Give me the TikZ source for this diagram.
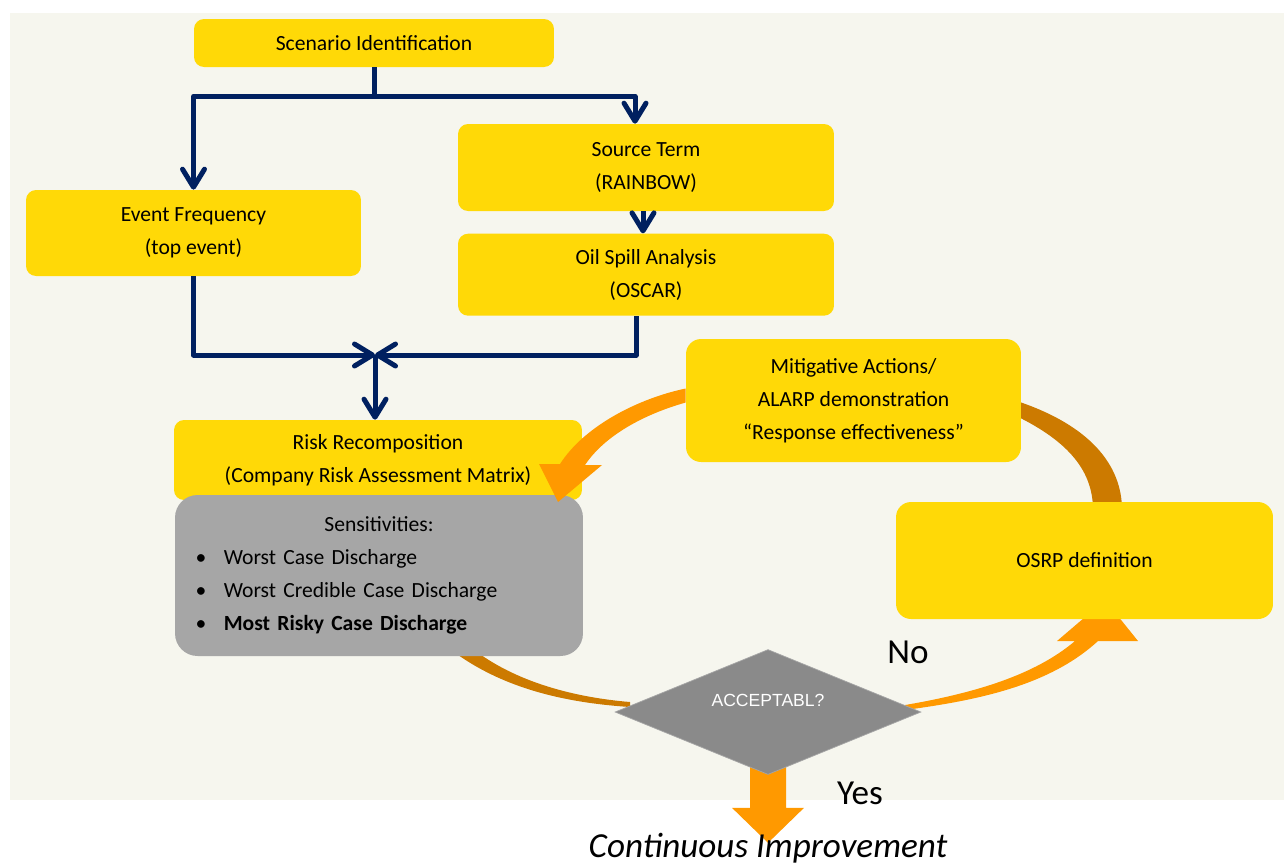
\documentclass[tikz,border=0pt]{standalone}
\usepackage{fontspec}
\setmainfont{Carlito}
\newfontfamily\arialfont{Liberation Sans}
\usetikzlibrary{arrows.meta, shapes.geometric, positioning, calc}
\definecolor{boxYellow}{HTML}{FFD907}
\definecolor{sensGray}{HTML}{A6A6A6}
\definecolor{flowNavy}{HTML}{002060}
\definecolor{loopOrange}{HTML}{FF9900}
\definecolor{loopDark}{HTML}{CC7A00}
\definecolor{paperCream}{HTML}{F6F6EE}
\definecolor{decisionGray}{HTML}{8A8A8A}
\pgfdeclarelayer{paper}
\pgfdeclarelayer{under}
\pgfsetlayers{paper,under,main}
\newcommand{\sensitem}[1]{\hspace*{0.13cm}\textbullet\hspace{0.35cm}#1}

\begin{document}
\begin{tikzpicture}[x=0.02cm, y=-0.02cm,
  every node/.style={text=black, font=\fontsize{12.3}{18.7}\selectfont},
  flow/.style={line width=0.1cm, draw=flowNavy, line join=round},
  arr/.style={flow, -{Straight Barb[length=0.36cm, width=0.44cm, round]}},
  yblock/.style={fill=boxYellow, rounded corners=0.2cm, align=center, inner sep=0pt},
  sensblock/.style={fill=sensGray, rounded corners=0.45cm, align=left,
                    text width=7.6cm, inner xsep=0.28cm, inner ysep=0pt,
                    minimum height=3.22cm},
  decision/.style={diamond, aspect=2.5, fill=decisionGray, draw=gray!70, line width=0.4pt,
                   minimum width=6.12cm, minimum height=2.5cm, inner sep=0pt,
                   text=white, font=\arialfont\fontsize{10}{12}\selectfont},
  biglabel/.style={font=\fontsize{20}{24}\selectfont}]

  \useasboundingbox (0,0) rectangle (1284,867);

  \begin{pgfonlayer}{paper}
    \fill[paperCream] (10,13) rectangle (1284,800);
  \end{pgfonlayer}

  %% ═══════════════════════════════════════════════════════════════
  %% UPPER FLOW: SCENARIO -> FREQUENCY / SOURCE TERM -> OIL SPILL
  %% ═══════════════════════════════════════════════════════════════

  \node[yblock, minimum width=7.2cm, minimum height=0.96cm] (scen) at (374,43)
      {Scenario Identification};

  \node[yblock, minimum width=6.7cm, minimum height=1.72cm] (evfreq) at (193.5,233)
      {Event Frequency\\(top event)};

  \node[yblock, minimum width=7.52cm, minimum height=1.74cm] (src) at (646,167.5)
      {Source Term\\(RAINBOW)};
  \node[yblock, minimum width=7.52cm, minimum height=1.64cm, below=0.44cm of src] (oil)
      {Oil Spill Analysis\\(OSCAR)};

  \coordinate (split) at ($(scen.south)+(0,29)$);
  \draw[flow] (scen.south) -- (split);
  \draw[arr] (split) -| (evfreq.north);
  \draw[arr] (split) -| ([xshift=-0.22cm]src.north);
  \draw[arr] ([xshift=-0.06cm]src.south) -- ([xshift=-0.06cm]oil.north);

  %% ═══════════════════════════════════════════════════════════════
  %% RISK RECOMPOSITION + SENSITIVITIES
  %% ═══════════════════════════════════════════════════════════════

  \node[yblock, minimum width=8.16cm, minimum height=1.6cm] (risk) at (378,460)
      {Risk Recomposition\\(Company Risk Assessment Matrix)};

  \node[sensblock] (sens) at (379,575.5)
      {\makebox[\linewidth]{Sensitivities:}\\
       \sensitem{Worst Case Discharge}\\
       \sensitem{Worst Credible Case Discharge}\\
       \sensitem{\textbf{Most Risky Case Discharge}}};

  \coordinate (merge) at (375,355);
  \draw[arr] (evfreq.south) |- (merge);
  \draw[arr] ([xshift=-0.2cm]oil.south) |- (merge);
  \draw[arr] (merge) -- (merge |- risk.north);

  %% ═══════════════════════════════════════════════════════════════
  %% IMPROVEMENT LOOP
  %% ═══════════════════════════════════════════════════════════════

  \node[yblock, rounded corners=0.3cm, minimum width=6.7cm, minimum height=2.46cm]
      (mitig) at (853.5,400.5)
      {Mitigative Actions/\\ALARP demonstration\\“Response effectiveness”};

  \node[yblock, rounded corners=0.3cm, minimum width=7.54cm, minimum height=2.34cm]
      (osrp) at (1084.5,560.5) {OSRP definition};

  \node[decision] (accept) at (768,712) {\raisebox{0.48cm}{ACCEPTABL?}};

  \node[biglabel] (nolbl) at (908,652) {No};
  \node[biglabel] (yeslbl) at (860,793) {Yes};
  \node[biglabel, font=\fontsize{20}{24}\selectfont\itshape] (contimp) at (768,848)
      {Continuous Improvement};

  \begin{pgfonlayer}{under}
    % mitigative -> osrp
    \fill[loopDark] ($(mitig.east)+(-6,0)$) .. controls (1090,425) and (1122,465) .. (1122,510)
        -- (1093,510) .. controls (1093,472) and (1070,442) .. ($(mitig.east)+(-6,15)$) -- cycle;
    % sensitivities -> decision
    \fill[loopDark] (445,645) .. controls (500,690) and (570,703) .. (630,707)
        -- (630,702) .. controls (570,697) and (510,680) .. (468,645) -- cycle;
    % decision -> osrp (No)
    \fill[loopOrange] (905,710) .. controls (980,700) and (1050,685) .. (1098,641)
        -- (1138,641) -- (1105,600) -- (1057,641) -- (1075,641)
        .. controls (1035,675) and (975,693) .. (905,705) -- cycle;
    % decision -> continuous improvement (Yes)
    \fill[loopOrange] ($(accept.south)+(-18,-30)$) -- ++(0,63) -- ++(-18,0) -- ++(36,35)
        -- ++(36,-35) -- ++(-18,0) -- ++(0,-63) -- cycle;
  \end{pgfonlayer}

  % mitigative -> risk recomposition
  \fill[loopOrange] ($(mitig.west)+(0,-12)$) .. controls (640,398) and (585,425) .. (560,464)
      -- (539,464) -- (558,502) -- (602,465) -- (585,465)
      .. controls (605,435) and (645,414) .. ($(mitig.west)+(0,2)$) -- cycle;

\end{tikzpicture}
\end{document}
